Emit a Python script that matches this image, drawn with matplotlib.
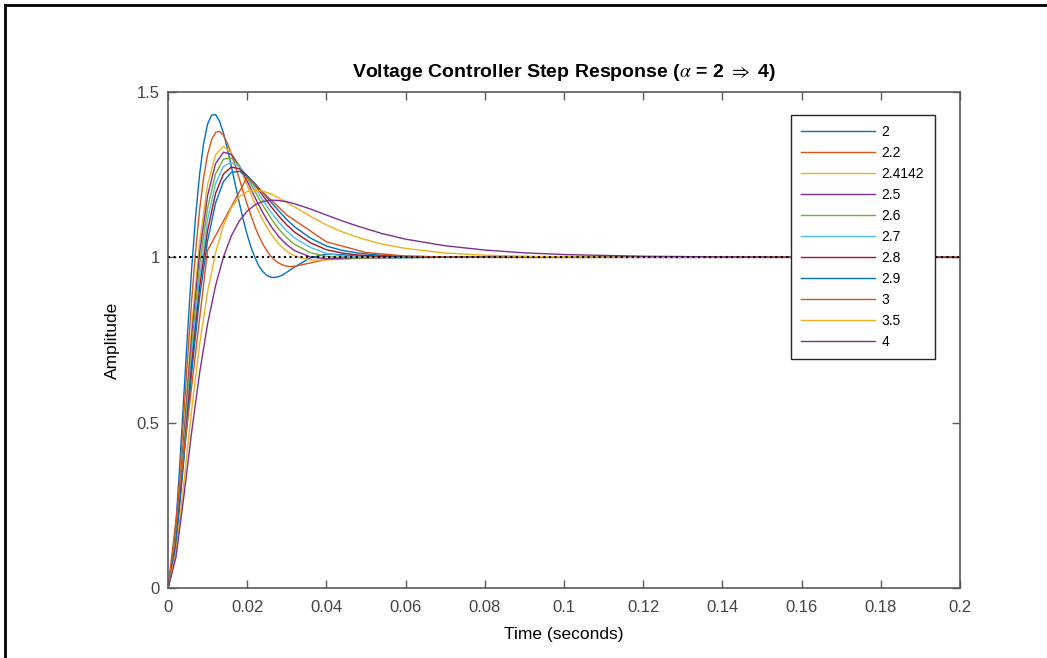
import matplotlib
matplotlib.use('Agg')
import matplotlib.pyplot as plt
from matplotlib.lines import Line2D

plt.rcParams['font.family'] = ['Liberation Sans', 'DejaVu Sans']
plt.rcParams['mathtext.fontset'] = 'stix'

# time samples (s)
t = [0, 0.002, 0.004, 0.006, 0.008, 0.010, 0.012, 0.014, 0.016, 0.018,
     0.020, 0.022, 0.024, 0.026, 0.028, 0.030, 0.032, 0.036, 0.040, 0.044,
     0.048, 0.054, 0.060, 0.070, 0.080, 0.090, 0.100, 0.120, 0.140, 0.160, 0.200]
# finer samples for the two fastest responses
t_fine = [0, 0.001, 0.002, 0.003, 0.004, 0.005, 0.006, 0.007, 0.008, 0.009,
          0.010, 0.011, 0.012, 0.013, 0.014, 0.015, 0.016, 0.017, 0.018, 0.019,
          0.020, 0.021, 0.022, 0.023, 0.024, 0.025, 0.026, 0.027, 0.028, 0.029,
          0.030, 0.031, 0.032, 0.036, 0.040, 0.044, 0.048, 0.054, 0.060, 0.070,
          0.080, 0.090, 0.100, 0.120, 0.140, 0.160, 0.200]
# alpha = 3 was sampled coarser
t_coarse = [0, 0.01, 0.02, 0.03, 0.04, 0.05, 0.06, 0.07, 0.08, 0.09, 0.10,
            0.11, 0.12, 0.13, 0.14, 0.15, 0.16, 0.17, 0.18, 0.19, 0.20]

y_20 = [0, 0.055, 0.193, 0.378, 0.582, 0.784, 0.970, 1.128, 1.253, 1.345, 1.403,
        1.430, 1.432, 1.412, 1.376, 1.329, 1.275, 1.219, 1.165, 1.114, 1.068,
        1.029, 0.998, 0.973, 0.956, 0.945, 0.940, 0.939, 0.942, 0.947, 0.955,
        0.963, 0.971, 0.999, 1.010, 1.008, 1.003, 0.9985, 0.999, 1.0003,
        1, 1, 1, 1, 1, 1, 1]
y_22 = [0, 0.050, 0.173, 0.339, 0.522, 0.705, 0.874, 1.023, 1.146, 1.242, 1.311,
        1.355, 1.378, 1.381, 1.369, 1.345, 1.314, 1.277, 1.238, 1.198, 1.160,
        1.125, 1.091, 1.063, 1.039, 1.019, 1.003, 0.991, 0.982, 0.977, 0.973,
        0.972, 0.973, 0.983, 0.994, 1.001, 1.003, 1.0015, 1.0001, 1,
        1, 1, 1, 1, 1, 1, 1]
y_24142 = [0, 0.157, 0.471, 0.792, 1.048, 1.221, 1.310, 1.336, 1.316, 1.272, 1.217,
           1.161, 1.111, 1.071, 1.040, 1.018, 1.004, 0.992, 0.992, 0.995, 0.998,
           1.000, 1.0004, 1.0001, 1, 1, 1, 1, 1, 1, 1]
y_25 = [0, 0.151, 0.453, 0.763, 1.015, 1.187, 1.283, 1.318, 1.311, 1.277, 1.230,
        1.180, 1.134, 1.094, 1.062, 1.038, 1.020, 1.001, 0.996, 0.996, 0.997,
        0.999, 1.000, 1, 1, 1, 1, 1, 1, 1, 1]
y_26 = [0, 0.144, 0.434, 0.732, 0.979, 1.149, 1.252, 1.297, 1.300, 1.278, 1.240,
        1.198, 1.156, 1.118, 1.085, 1.059, 1.039, 1.014, 1.003, 0.999, 0.998,
        0.999, 0.9997, 1, 1, 1, 1, 1, 1, 1, 1]
y_27 = [0, 0.139, 0.418, 0.704, 0.943, 1.114, 1.223, 1.275, 1.287, 1.275, 1.245,
        1.209, 1.172, 1.137, 1.106, 1.080, 1.058, 1.030, 1.012, 1.004, 1.001,
        1.000, 0.9996, 1, 1, 1, 1, 1, 1, 1, 1]
y_28 = [0, 0.134, 0.400, 0.678, 0.911, 1.081, 1.193, 1.252, 1.273, 1.268, 1.247,
        1.218, 1.186, 1.154, 1.124, 1.098, 1.076, 1.044, 1.023, 1.013, 1.007,
        1.003, 1.0015, 1.0004, 1.0001, 1, 1, 1, 1, 1, 1]
y_29 = [0, 0.129, 0.388, 0.654, 0.881, 1.050, 1.164, 1.229, 1.257, 1.260, 1.246,
        1.223, 1.195, 1.167, 1.140, 1.114, 1.092, 1.058, 1.034, 1.021, 1.013,
        1.006, 1.003, 1.001, 1.0002, 1, 1, 1, 1, 1, 1]
y_30 = [0, 1.021, 1.242, 1.128, 1.047, 1.0145, 1.004, 1.001, 1.0003, 1.0001, 1,
        1, 1, 1, 1, 1, 1, 1, 1, 1, 1]
y_35 = [0, 0.106, 0.317, 0.541, 0.738, 0.896, 1.013, 1.096, 1.150, 1.183, 1.199,
        1.203, 1.200, 1.192, 1.180, 1.166, 1.152, 1.124, 1.098, 1.077, 1.060,
        1.040, 1.027, 1.013, 1.0065, 1.0032, 1.0016, 1.0004, 1.0001, 1, 1]
y_40 = [0, 0.092, 0.277, 0.474, 0.652, 0.799, 0.914, 1.001, 1.065, 1.110, 1.140,
        1.159, 1.169, 1.173, 1.172, 1.168, 1.162, 1.146, 1.128, 1.110, 1.094,
        1.072, 1.055, 1.035, 1.022, 1.0136, 1.0084, 1.0032, 1.0013, 1.0005, 1.0001]

labels = ['2', '2.2', '2.4142', '2.5', '2.6', '2.7', '2.8', '2.9', '3', '3.5', '4']
series = [(t_fine, y_20), (t_fine, y_22), (t, y_24142), (t, y_25), (t, y_26), (t, y_27),
          (t, y_28), (t, y_29), (t_coarse, y_30), (t, y_35), (t, y_40)]
colors = ['#0072BD', '#D95319', '#EDB120', '#7E2F8E', '#77AC30', '#4DBEEE',
          '#A2142F', '#0072BD', '#D95319', '#EDB120', '#7E2F8E']

fig = plt.figure(figsize=(10.47, 6.58), dpi=100)
ax = fig.add_axes([168 / 1047, 70 / 658, 792 / 1047, 496 / 658])

for (tx, yy), lab, c in zip(series, labels, colors):
    ax.plot(tx, yy, color=c, lw=1.0, label=lab)

# steady state line
ax.plot([0, 0.2], [1, 1], 'k:', lw=1.5)

ax.set_xlim(0, 0.2)
ax.set_ylim(0, 1.5)
ax.set_xticks([0, 0.02, 0.04, 0.06, 0.08, 0.1, 0.12, 0.14, 0.16, 0.18, 0.2])
ax.set_xticklabels(['0', '0.02', '0.04', '0.06', '0.08', '0.1', '0.12', '0.14',
                    '0.16', '0.18', '0.2'])
ax.set_yticks([0, 0.5, 1, 1.5])
ax.set_yticklabels(['0', '0.5', '1', '1.5'])

gray = '#5a5a5a'
for s in ax.spines.values():
    s.set_color(gray)
    s.set_linewidth(1.2)
ax.tick_params(direction='in', length=6, width=1.0, color=gray, labelcolor='#444444',
               labelsize=12, top=True, right=True)
ax.tick_params(axis='x', pad=9)
ax.tick_params(axis='y', pad=6)

ax.set_title(r'Voltage Controller Step Response ($\alpha$ = 2 $\Rightarrow$ 4)',
             fontsize=14, fontweight='bold', pad=11)
ax.set_xlabel('Time (seconds)', fontsize=12.5, labelpad=8)
ax.set_ylabel('Amplitude', fontsize=12.5, labelpad=12)

leg = ax.legend(loc='upper right', bbox_to_anchor=(0.968, 0.954), borderaxespad=0,
                fontsize=10, handlelength=5.3, handletextpad=0.5, labelspacing=0.5,
                borderpad=0.75, fancybox=False, framealpha=1, edgecolor='#262626')
leg.get_frame().set_linewidth(1.0)

# frame of the original screenshot
fig.add_artist(Line2D([5 / 1047, 1], [1 - 5 / 658, 1 - 5 / 658], color='black', lw=2))
fig.add_artist(Line2D([5 / 1047, 5 / 1047], [0, 1 - 5 / 658], color='black', lw=2))

fig.savefig('out.png', dpi=100)
